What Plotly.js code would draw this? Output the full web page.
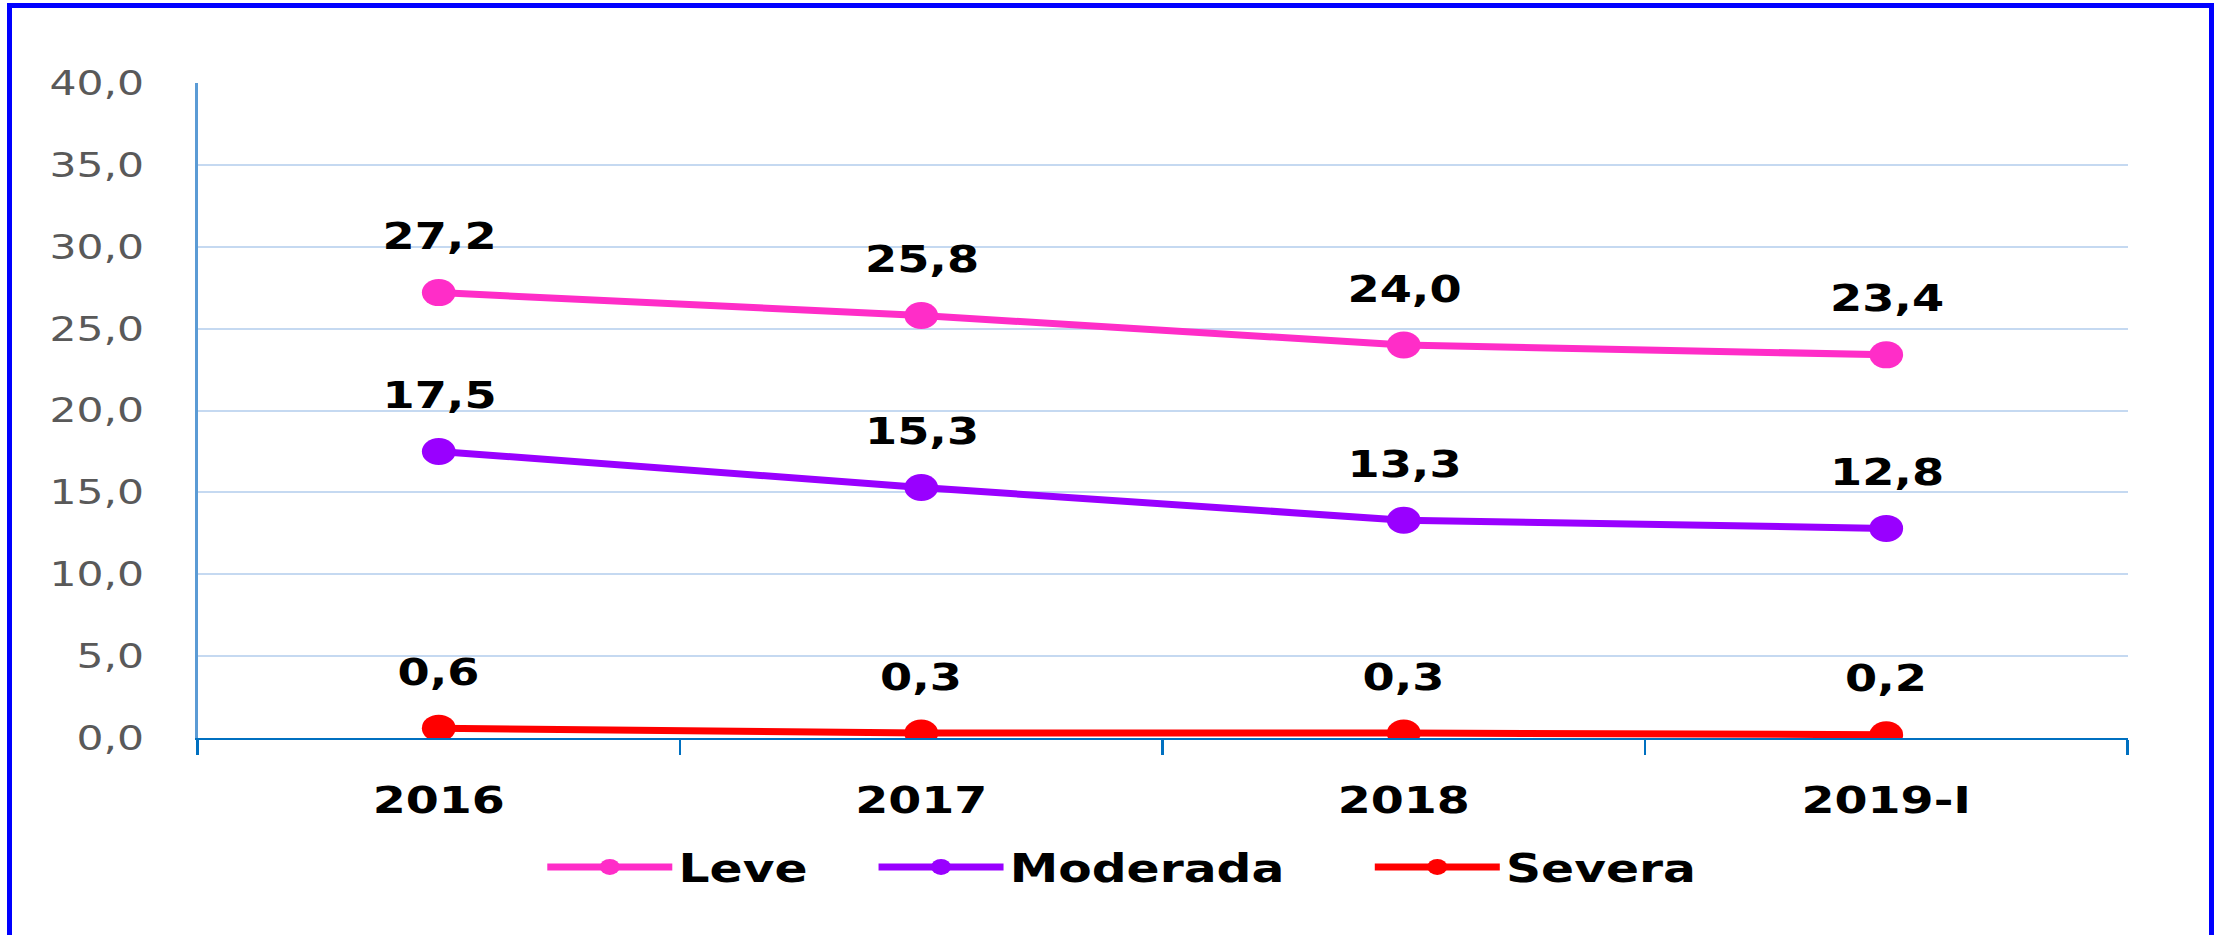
<!DOCTYPE html>
<html>
<head>
<meta charset="utf-8">
<script src="https://cdn.plot.ly/plotly-3.0.1.min.js"></script>
<style>
  html, body { margin: 0; padding: 0; background: #ffffff; overflow: hidden; }
  #wrap { position: relative; width: 2219px; height: 935px; overflow: hidden; background: #fff; }
  #chart { position: absolute; left: 0; top: 0; width: 1775px; height: 935px;
           transform: scaleX(1.25); transform-origin: 0 0; }
  #frame { position: absolute; left: 7px; top: 3px; width: 2197px; height: 960px;
           border: 5px solid #0000FF; pointer-events: none; }
</style>
</head>
<body>
<div id="wrap">
  <div id="chart"></div>
  <div id="frame"></div>
</div>
<script>
const categories = ['2016', '2017', '2018', '2019-I'];
const leve = [27.2, 25.8, 24.0, 23.4];
const moderada = [17.5, 15.3, 13.3, 12.8];
const severa = [0.6, 0.3, 0.3, 0.2];
const seriesNames = ['Leve', 'Moderada', 'Severa'];
const yTicks = [0, 5, 10, 15, 20, 25, 30, 35, 40];

const seriesValues = [leve, moderada, severa];
const colors = ['#FF2DC8', '#9900FF', '#FF0000'];
const legendWidths = [150, 282, 198];

const traces = seriesValues.map((vals, i) => ({
  type: 'scatter',
  mode: 'lines+markers',
  name: seriesNames[i],
  x: categories,
  y: vals,
  line: { color: colors[i], width: 7 },
  marker: { color: colors[i], size: 27 },
  legendwidth: legendWidths[i],
  hoverinfo: 'skip'
}));

const fmt = v => v.toFixed(1).replace('.', ',');
const annotations = [];
seriesValues.forEach(vals => {
  vals.forEach((v, j) => {
    annotations.push({
      x: j, y: v, xref: 'x', yref: 'y',
      text: fmt(v), showarrow: false,
      yanchor: 'middle', yshift: 56,
      font: { family: 'DejaVu Sans', size: 37, color: '#000000', weight: 700 }
    });
  });
});

const layout = {
  width: 1775, height: 935,
  margin: { l: 158, r: 73, t: 83, b: 197 },
  paper_bgcolor: 'rgba(0,0,0,0)',
  plot_bgcolor: '#ffffff',
  separators: ',.',
  showlegend: true,
  font: { family: 'DejaVu Sans' },
  xaxis: {
    type: 'category',
    categoryorder: 'array',
    categoryarray: categories,
    range: [-0.5, 3.5],
    tickson: 'boundaries',
    ticks: 'outside', ticklen: 15, tickwidth: 2, tickcolor: '#0070C0',
    showline: true, linecolor: '#0070C0', linewidth: 2,
    showgrid: false, zeroline: false,
    tickfont: { family: 'DejaVu Sans', size: 38, color: '#000000', weight: 700 },
    ticklabelstandoff: 27
  },
  yaxis: {
    range: [0, 40],
    tickvals: yTicks,
    tickformat: '.1f',
    ticks: '',
    showline: true, linecolor: '#5B9BD5', linewidth: 2,
    showgrid: true, gridcolor: '#C5D9F1', gridwidth: 2,
    zeroline: false,
    tickfont: { family: 'DejaVu Sans', size: 34, color: '#595959' },
    ticklabelstandoff: 34
  },
  legend: {
    orientation: 'h',
    x: 0.178, xanchor: 'left',
    y: -0.197, yanchor: 'middle',
    itemwidth: 100,
    font: { family: 'DejaVu Sans', size: 39, color: '#000000', weight: 700 },
    bgcolor: 'rgba(0,0,0,0)'
  },
  annotations: annotations
};

Plotly.newPlot('chart', traces, layout, { displayModeBar: false, staticPlot: true });
</script>
</body>
</html>
